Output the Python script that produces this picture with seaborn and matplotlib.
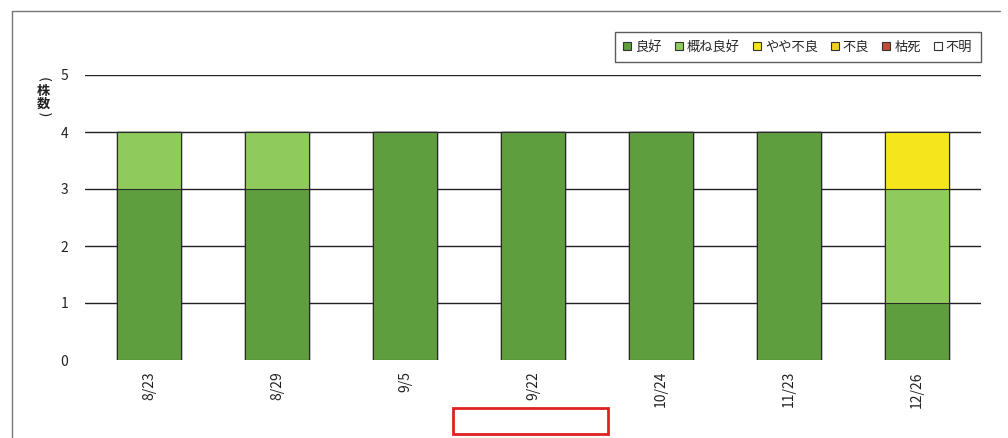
import numpy as np
import matplotlib
matplotlib.use("Agg")
import matplotlib.pyplot as plt
import matplotlib.patches as mpatches
from matplotlib.lines import Line2D
import seaborn as sns

dates = ['8/23', '8/29', '9/5', '9/22', '10/24', '11/23', '12/26']
categories = ['良好', '概ね良好', 'やや不良', '不良', '枯死', '不明']
good = [3, 3, 4, 4, 4, 4, 1]
mostly_good = [1, 1, 0, 0, 0, 0, 2]
slightly_bad = [0, 0, 0, 0, 0, 0, 1]
bad = [0, 0, 0, 0, 0, 0, 0]
dead = [0, 0, 0, 0, 0, 0, 0]
unknown = [0, 0, 0, 0, 0, 0, 0]
series = [good, mostly_good, slightly_bad, bad, dead, unknown]
colors = ['#5e9e3e', '#8fcb5c', '#f5e61c', '#f2d21a', '#c44a3a', '#ffffff']

sns.set_theme(style='white')
plt.rcParams['font.family'] = ['Noto Sans CJK JP', 'DejaVu Sans']

fig = plt.figure(figsize=(10.08, 4.38), dpi=100)
ax = fig.add_axes([85 / 1008, 78 / 438, 896 / 1008, 285 / 438])

cum = np.cumsum(np.array(series, dtype=float), axis=0)
for i in range(len(categories) - 1, -1, -1):
    sns.barplot(x=dates, y=cum[i], color=colors[i], saturation=1, width=0.5,
                edgecolor='#2a2a2a', linewidth=0.8, ax=ax, zorder=3)

ax.set_ylim(0, 5)
ax.set_xlim(-0.5, len(dates) - 0.5)
ax.set_yticks([0, 1, 2, 3, 4, 5])
for y in [1, 2, 3, 4, 5]:
    ax.axhline(y, color='#222222', linewidth=1.0, zorder=1)
for s in ax.spines.values():
    s.set_visible(False)
ax.tick_params(axis='y', length=0, pad=12, labelsize=10, colors='#222222')
ax.tick_params(axis='x', length=0, pad=8, labelsize=10, colors='#222222')
ax.set_xticks(range(len(dates)))
ax.set_xticklabels(dates, rotation=90)
ax.set_xlabel('')
ax.set_ylabel('')

# vertical y-axis label (株数) with rotated parentheses
xl = 43 / 1008
fig.text(xl, 1 - 80 / 438, '(', rotation=-90, ha='center', va='center', fontsize=10,
         color='#222222', family=['DejaVu Sans'])
fig.text(xl, 1 - 91 / 438, '株', ha='center', va='center', fontsize=9.5, color='#222222', fontweight='bold')
fig.text(xl, 1 - 104 / 438, '数', ha='center', va='center', fontsize=9.5, color='#222222', fontweight='bold')
fig.text(xl, 1 - 115 / 438, ')', rotation=-90, ha='center', va='center', fontsize=10,
         color='#222222', family=['DejaVu Sans'])

handles = [mpatches.Patch(facecolor=c, edgecolor='#333333', linewidth=0.8) for c in colors]
leg = fig.legend(handles, categories, loc='upper right', bbox_to_anchor=(981 / 1008, 1 - 32 / 438),
                 ncol=6, fontsize=9.5, frameon=True, handlelength=0.6, handleheight=0.6,
                 handletextpad=0.3, columnspacing=1.0, borderpad=0.65, borderaxespad=0,
                 fancybox=False)
leg.get_frame().set_edgecolor('#333333')
leg.get_frame().set_linewidth(1.0)

# outer frame lines
fig.add_artist(Line2D([12 / 1008, 12 / 1008], [0, 1 - 11 / 438], transform=fig.transFigure,
                      color='#777777', linewidth=1.0))
fig.add_artist(Line2D([12 / 1008, 1000 / 1008], [1 - 11 / 438, 1 - 11 / 438], transform=fig.transFigure,
                      color='#777777', linewidth=1.0))

# red annotation box
fig.add_artist(mpatches.Rectangle((453 / 1008, 1 - 434 / 438), 155 / 1008, 26 / 438,
                                  transform=fig.transFigure, fill=False, edgecolor='#e02020', linewidth=2))

fig.savefig('out.png', dpi=100)
